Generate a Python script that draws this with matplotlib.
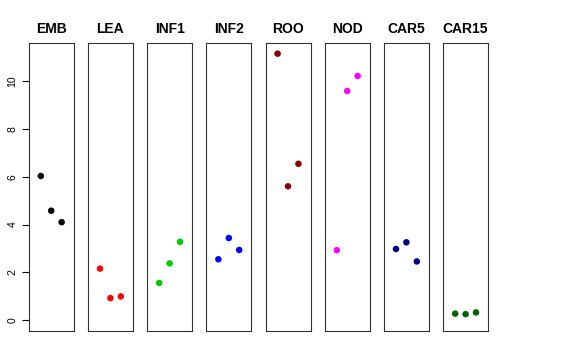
import numpy as np
import matplotlib
matplotlib.use('Agg')
import matplotlib.pyplot as plt

plt.rcParams['font.family'] = ['Liberation Sans', 'DejaVu Sans']

groups = ['EMB', 'LEA', 'INF1', 'INF2', 'ROO', 'NOD', 'CAR5', 'CAR15']
colors = ['black', 'red', '#00CD00', 'blue', '#8B0000', 'magenta', '#00008B', '#006400']
values = [
    [6.03, 4.58, 4.10],
    [2.16, 0.93, 1.00],
    [1.56, 2.38, 3.28],
    [2.55, 3.44, 2.94],
    [11.14, 5.60, 6.54],
    [2.93, 9.58, 10.21],
    [2.98, 3.26, 2.46],
    [0.28, 0.26, 0.33],
]

W, H = 576, 360
fig = plt.figure(figsize=(W / 100, H / 100), dpi=100)

ymax = max(max(v) for v in values)
pad = 0.04 * ymax
ylo, yhi = 0 - pad, ymax + pad
xlo, xhi = 0 - 0.16, 4 + 0.16

left0 = 28.7
step = 59.2
width = 45
top, bottom = 43, 331

for i, (g, c, v) in enumerate(zip(groups, colors, values)):
    x0 = left0 + i * step
    ax = fig.add_axes([x0 / W, 1 - bottom / H, width / W, (bottom - top) / H])
    ax.scatter([1, 2, 3], v, s=22, color=c, edgecolors='none')
    ax.set_xlim(xlo, xhi)
    ax.set_ylim(ylo, yhi)
    ax.set_xticks([])
    for sp in ax.spines.values():
        sp.set_linewidth(0.8)
        sp.set_color('#333333')
    ax.set_title(g, fontsize=10, fontweight='bold', pad=7)
    if i == 0:
        ax.set_yticks([0, 2, 4, 6, 8, 10])
        ax.tick_params(axis='y', length=5, width=0.8, labelsize=7.5, pad=3)
        for lab in ax.get_yticklabels():
            lab.set_rotation(90)
            lab.set_va('center')
    else:
        ax.set_yticks([])

fig.savefig('out.png', dpi=100)
